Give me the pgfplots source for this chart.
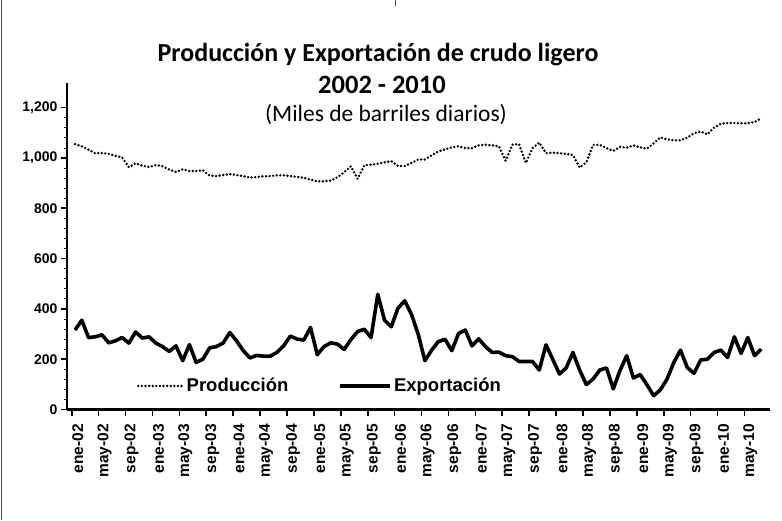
\documentclass[border=0pt]{standalone}
\usepackage{pgfplots}
\pgfplotsset{compat=1.18}
\usepackage{pgfplotstable}
\usepackage{fontspec}
\setmainfont{Liberation Sans}
\newfontfamily\titlefont{Carlito}

\pgfplotsset{
  prodleg/.style={legend image code/.code={\draw[##1] (0pt,0pt) -- (45pt,0pt);}},
  expleg/.style={legend image code/.code={\draw[##1] (0pt,0pt) -- (50pt,0pt);}},
}

\pgfplotstableread{
m v
0 1055
1 1046
2 1033
3 1018
4 1020
5 1016
6 1008
7 1002
8 963
9 979
10 969
11 964
12 972
13 967
14 954
15 944
16 955
17 948
18 948
19 951
20 930
21 928
22 932
23 936
24 932
25 928
26 922
27 924
28 927
29 928
30 931
31 931
32 928
33 925
34 921
35 914
36 907
37 907
38 910
39 923
40 943
41 967
42 917
43 971
44 973
45 977
46 983
47 987
48 968
49 968
50 980
51 994
52 994
53 1010
54 1026
55 1034
56 1042
57 1047
58 1039
59 1039
60 1050
61 1053
62 1050
63 1046
64 989
65 1053
66 1055
67 980
68 1039
69 1061
70 1019
71 1021
72 1019
73 1016
74 1012
75 962
76 983
77 1052
78 1052
79 1039
80 1028
81 1044
82 1041
83 1050
84 1042
85 1037
86 1058
87 1082
88 1074
89 1070
90 1070
91 1081
92 1098
93 1105
94 1094
95 1121
96 1136
97 1139
98 1139
99 1138
100 1138
101 1143
102 1158
}\produccion

\pgfplotstableread{
m v
0 316
1 355
2 286
3 289
4 297
5 265
6 273
7 286
8 264
9 308
10 284
11 289
12 264
13 250
14 231
15 253
16 194
17 258
18 187
19 200
20 245
21 250
22 264
23 306
24 273
25 234
26 205
27 215
28 212
29 212
30 227
31 253
32 292
33 280
34 276
35 326
36 218
37 250
38 265
39 260
40 239
41 278
42 310
43 319
44 286
45 458
46 355
47 329
48 403
49 432
50 379
51 300
52 194
53 236
54 270
55 279
56 234
57 302
58 316
59 253
60 281
61 250
62 227
63 228
64 214
65 210
66 191
67 191
68 191
69 157
70 257
71 200
72 141
73 165
74 227
75 157
76 99
77 121
78 157
79 165
80 82
81 155
82 214
83 125
84 139
85 99
86 55
87 78
88 121
89 187
90 236
91 167
92 144
93 197
94 200
95 227
96 236
97 207
98 289
99 223
100 286
101 214
102 240
}\exportacion

\begin{document}
\begin{tikzpicture}
\begin{axis}[
  at={(0pt,0pt)}, anchor=south west,
  scale only axis,
  width=703pt, height=327pt,
  xmin=-1.2, xmax=103.3,
  ymin=0, ymax=1300,
  axis x line=bottom, axis y line=left,
  axis line style={-, line width=2.4pt},
  xtick={-0.5,3.5,...,99.5},
  xticklabels={ene-02,may-02,sep-02,ene-03,may-03,sep-03,ene-04,may-04,sep-04,ene-05,may-05,sep-05,ene-06,may-06,sep-06,ene-07,may-07,sep-07,ene-08,may-08,sep-08,ene-09,may-09,sep-09,ene-10,may-10},
  xticklabel style={xshift=6pt, yshift=-5pt, rotate=90, anchor=east, font=\bfseries\fontsize{15.5}{15.5}\selectfont},
  ytick={0,200,...,1200},
  minor y tick num=4,
  yticklabel style={font=\bfseries\fontsize{14}{14}\selectfont},
  /pgf/number format/assume math mode=true,
  /pgf/number format/1000 sep={,},
  tick align=outside,
  major tick length=6pt,
  minor tick length=2.5pt,
  every tick/.style={black, line width=1.6pt},
  minor tick style={line width=0.8pt},
  legend columns=2,
  legend style={at={(0.095,0.072)}, anchor=west, draw=none, fill=none,
    font=\bfseries\fontsize{18.5}{18.5}\selectfont,
    /tikz/every even column/.append style={column sep=48pt}},
  legend cell align=left,
]
\addplot[black, line width=2.7pt, dash pattern=on 0pt off 3.6pt, line cap=round, prodleg]
  table[x=m, y=v] {\produccion};
\addlegendentry{Producción}
\addplot[black, line width=3.6pt, line join=round, expleg]
  table[x=m, y=v] {\exportacion};
\addlegendentry{Exportación}
\end{axis}
\node[font=\titlefont\bfseries\fontsize{26}{26}\selectfont] at (311pt,355pt) {Producción y Exportación de crudo ligero};
\node[font=\titlefont\bfseries\fontsize{26.5}{26.5}\selectfont] at (315pt,325pt) {2002 - 2010};
\node[font=\titlefont\fontsize{23.5}{23.5}\selectfont] at (319pt,295pt) {(Miles de barriles diarios)};
\draw[black!70, line width=1pt] (-65pt,409pt) -- (-65pt,-110pt);
\draw[black!70, line width=0.8pt] (328pt,409pt) -- (328pt,403pt);
\path[use as bounding box] (-67pt,-110pt) rectangle (715pt,409pt);
\end{tikzpicture}
\end{document}
